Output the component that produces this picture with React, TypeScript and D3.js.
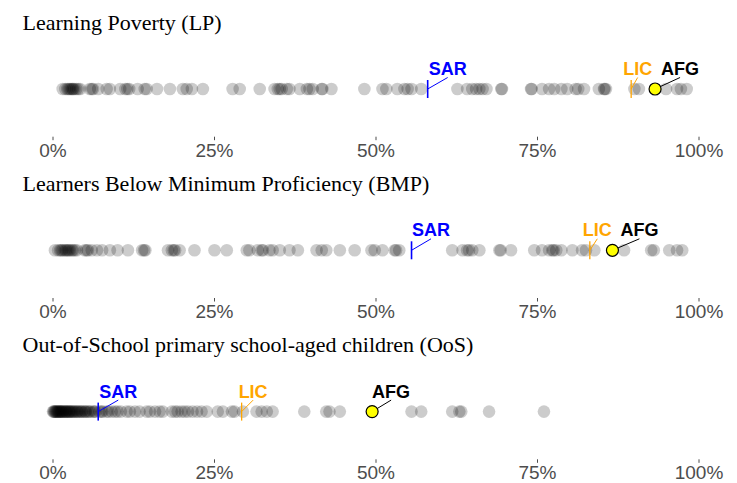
import React from "react";
import * as d3 from "d3";

// indicator values per country, in percent
const lpValues = [
  1.5, 1.9, 2.2, 2.4, 2.6, 2.8, 3.0, 3.1, 3.3, 3.6, 3.9, 4.2, 5.7, 6.0, 6.2, 7.0, 8.3, 8.8,
  10.4, 11.2, 11.5, 11.8, 13.1, 14.2, 14.5, 16.1, 18.1, 20.1, 20.7, 21.5, 23.2, 27.8, 28.9,
  32.0, 34.3, 34.8, 35.1, 35.4, 36.2, 36.6, 38.2, 39.3, 39.7, 40.2, 41.6, 41.7, 43.1, 48.2,
  51.0, 51.6, 53.3, 54.4, 54.9, 55.5, 57.0, 62.6, 64.1, 64.9, 65.5, 66.0, 66.5, 67.1, 69.4,
  69.5, 74.0, 74.1, 75.7, 76.8, 77.6, 78.7, 79.6, 80.9, 81.3, 82.2, 84.5, 85.3, 85.4, 85.6,
  90.0, 90.7, 94.9, 96.6, 97.2, 98.1,
];

const bmpValues = [
  0.3, 0.8, 1.1, 1.3, 1.5, 1.8, 2.0, 2.2, 2.4, 2.6, 2.9, 3.1, 3.4, 3.7, 4.9, 5.2, 5.4, 6.0,
  6.8, 7.6, 8.8, 10.0, 11.6, 13.8, 14.1, 14.3, 17.8, 18.4, 18.7, 18.9, 19.6, 21.9, 25.0,
  26.9, 30.0, 30.4, 31.7, 32.3, 32.5, 33.5, 34.0, 35.1, 36.6, 37.9, 40.8, 41.6, 42.3, 44.4,
  46.7, 49.3, 49.8, 51.0, 52.9, 53.1, 53.6, 61.8, 63.4, 64.1, 64.4, 64.9, 66.0, 69.1, 69.3,
  70.9, 74.5, 75.7, 76.8, 77.3, 77.5, 77.9, 78.7, 80.4, 81.9, 82.5, 83.8, 88.4, 92.6, 93.0,
  95.4, 96.6, 97.4,
];

const oosValues = [
  0.0, 0.1, 0.2, 0.3, 0.4, 0.5, 0.6, 0.7, 0.8, 0.9, 1.0, 1.1, 1.2, 1.3, 1.4, 1.5, 1.6, 1.8,
  1.9, 2.0, 2.1, 2.2, 2.4, 2.5, 2.6, 2.7, 2.9, 3.0, 3.2, 3.3, 3.5, 3.7, 3.8, 4.0, 4.2, 4.4,
  4.5, 4.8, 5.0, 5.1, 5.4, 5.6, 5.8, 6.2, 6.4, 6.6, 7.2, 7.5, 7.7, 8.3, 8.6, 9.1, 9.6, 10.0,
  10.5, 11.4, 11.9, 12.7, 13.4, 14.5, 15.0, 15.8, 16.5, 17.0, 18.4, 18.9, 19.3, 19.9, 20.4,
  20.9, 21.6, 22.3, 23.0, 23.8, 25.5, 26.3, 27.7, 28.1, 29.4, 31.5, 32.3, 33.1, 34.0, 38.9,
  42.3, 42.8, 44.4, 55.5, 57.0, 61.8, 62.9, 63.2, 67.5, 76.0,
];

const panelTitles = [
  "Learning Poverty (LP)",
  "Learners Below Minimum Proficiency (BMP)",
  "Out-of-School primary school-aged children (OoS)",
];

// regional / income group / country reference values, per panel
const sarValues = [58.0, 55.5, 7.0];
const licValues = [89.5, 83.1, 29.2];
const afgValues = [93.2, 86.6, 49.4];

const tickValues = [0, 25, 50, 75, 100];
const tickLabels = ["0%", "25%", "50%", "75%", "100%"];

// label leader nudges (layout only)
const nudgeX = {
  SAR: [20, 19.5, 20],
  LIC: [6.5, 7.5, 11.5],
  AFG: [25, 27, 19],
};

const W = 737;
const H = 483;
const panelStep = 161.3;
const rowY = 89;
const titleY = 29.5;
const labelY = 156.7;

const x = d3.scaleLinear().domain([0, 100]).range([53, 699]);

const sans = "'Liberation Sans', Arial, sans-serif";

const series = [lpValues, bmpValues, oosValues];

const App = () => {
  return (
    <svg
      width={W}
      height={H}
      style={{ position: "absolute", left: 0, top: 0, background: "#fff" }}
    >
      {series.map((vals, i) => {
        const markers = [
          { key: "SAR", v: sarValues[i], color: "#0000ff", kind: "line" },
          { key: "LIC", v: licValues[i], color: "#ffa500", kind: "line" },
          { key: "AFG", v: afgValues[i], color: "#000000", kind: "point" },
        ];
        return (
          <g key={i} transform={`translate(0,${i * panelStep})`}>
            <text
              x={22.5}
              y={titleY}
              fontFamily="'Liberation Serif', 'Times New Roman', serif"
              fontSize={22}
              fill="#000"
            >
              {panelTitles[i]}
            </text>
            {vals.map((v, j) => (
              <circle key={j} cx={x(v)} cy={rowY} r={6.3} fill="#000" fillOpacity={0.2} />
            ))}
            {markers.map((m) => {
              const mx = x(m.v);
              const dx = nudgeX[m.key as keyof typeof nudgeX][i];
              return (
                <g key={m.key}>
                  {m.kind === "line" ? (
                    <line
                      x1={mx}
                      x2={mx}
                      y1={rowY - 9}
                      y2={rowY + 9}
                      stroke={m.color}
                      strokeWidth={m.key === "SAR" ? 1.6 : 1.3}
                    />
                  ) : null}
                  <line
                    x1={mx}
                    y1={rowY}
                    x2={mx + dx}
                    y2={rowY - 11.5}
                    stroke={m.color}
                    strokeWidth={1}
                  />
                  {m.kind === "point" ? (
                    <circle cx={mx} cy={rowY} r={6} fill="#ffff00" stroke="#000" strokeWidth={1.2} />
                  ) : null}
                  <text
                    x={mx + dx}
                    y={rowY - 14}
                    textAnchor="middle"
                    fontFamily={sans}
                    fontWeight="bold"
                    fontSize={18}
                    fill={m.color}
                  >
                    {m.key}
                  </text>
                </g>
              );
            })}
            {tickValues.map((t, k) => (
              <g key={t}>
                <line
                  x1={x(t)}
                  x2={x(t)}
                  y1={labelY - 20}
                  y2={labelY - 16.5}
                  stroke="#4d4d4d"
                  strokeWidth={1}
                />
                <text
                  x={x(t)}
                  y={labelY}
                  textAnchor="middle"
                  fontFamily={sans}
                  fontSize={19}
                  fill="#4d4d4d"
                >
                  {tickLabels[k]}
                </text>
              </g>
            ))}
          </g>
        );
      })}
    </svg>
  );
};

export default App;
